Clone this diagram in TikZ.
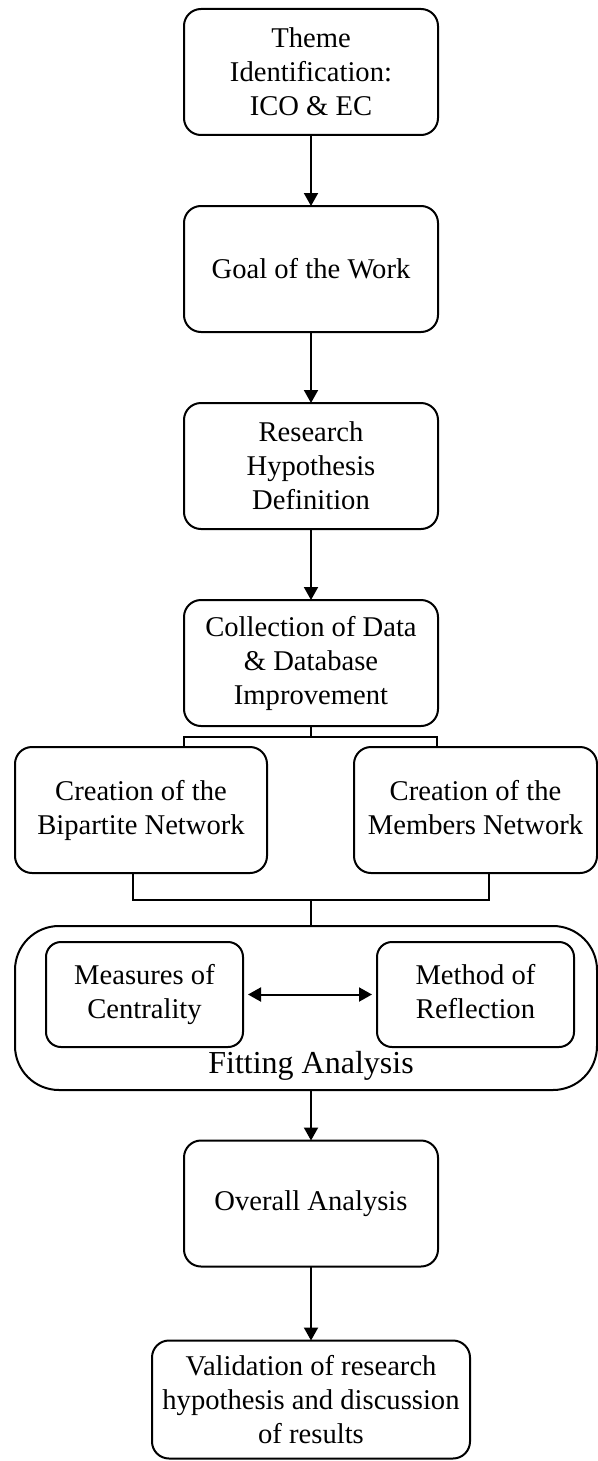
\documentclass[tikz,border=0pt]{standalone}
\usepackage{fontspec}
\setmainfont{Liberation Serif}
\usetikzlibrary{positioning, arrows.meta}

\begin{document}
\begin{tikzpicture}[
    x=0.5pt, y=-0.5pt,
    stepbox/.style  = {rectangle, draw, line width=1pt, rounded corners=8.5pt, align=center,
                       minimum width=127pt, minimum height=63pt, inner sep=2pt, outer sep=0pt,
                       font=\fontsize{14.3pt}{17pt}\selectfont},
    innerbox/.style = {stepbox, minimum width=98.5pt, minimum height=52.5pt, rounded corners=7.5pt},
    groupbox/.style = {draw, line width=1pt, rounded corners=22pt, minimum width=291pt,
                       minimum height=82pt, outer sep=0pt},
    arrow/.style    = {-{Triangle[length=6.5pt, width=7pt]}, line width=1pt},
    link/.style     = {line width=1pt},
    node distance   = 35.5pt
]
\useasboundingbox (0,0) rectangle (598,1461);

\node[stepbox] (theme) at (311,72) {Theme\\Identification:\\ICO \& EC};
\node[stepbox, below=of theme] (goal) {Goal of the Work};
\node[stepbox, below=of goal] (hyp) {Research\\Hypothesis\\Definition};
\node[stepbox, below=of hyp] (collect) {Collection of Data\\\& Database\\Improvement};

\node[stepbox, minimum width=126pt] (bip) at (141,810) {Creation of the\\Bipartite Network};
\node[stepbox, minimum width=121.5pt] (mem) at (475.5,810) {Creation of the\\Members Network\vphantom{p}};

\node[groupbox] (fitting) at (306,1008) {};
\node[innerbox] (cent) at (144.5,994.5) {Measures of\\Centrality};
\node[innerbox] (refl) at (475.5,994.5) {Method of\\Reflection\vphantom{y}};
\node[font=\fontsize{16pt}{19pt}\selectfont, inner sep=0pt] (fitlabel) at (311,1066) {Fitting Analysis};

\node[stepbox] (overall) at (311,1203.5) {Overall Analysis};
\node[stepbox, minimum width=159pt, minimum height=59pt, below=37pt of overall] (valid)
    {Validation of research\\hypothesis and discussion\\of results};

\foreach \a/\b in {theme/goal, goal/hyp, hyp/collect}
  \draw[arrow] (\a) -- (\b);

% split and join lines
\coordinate (splitL) at (184,737);
\coordinate (splitR) at (437,737);
\coordinate (joinL) at (133,900);
\coordinate (joinR) at (489,900);
\draw[link] (collect.south) -- (collect.south |- splitL);
\draw[link] (splitL |- bip.north) -- (splitL) -- (splitR) -- (splitR |- mem.north);
\draw[link] (joinL |- bip.south) -- (joinL) -- (joinR) -- (joinR |- mem.south);
\draw[link] (collect.south |- joinL) -- (collect.south |- fitting.north);

\draw[arrow, {Triangle[length=6.5pt, width=7pt]}-{Triangle[length=6.5pt, width=7pt]},
      shorten <=2.5pt, shorten >=2.5pt] (cent) -- (refl);
\draw[arrow] (overall.north |- fitting.south) -- (overall.north);
\draw[arrow] (overall) -- (valid);
\end{tikzpicture}
\end{document}
